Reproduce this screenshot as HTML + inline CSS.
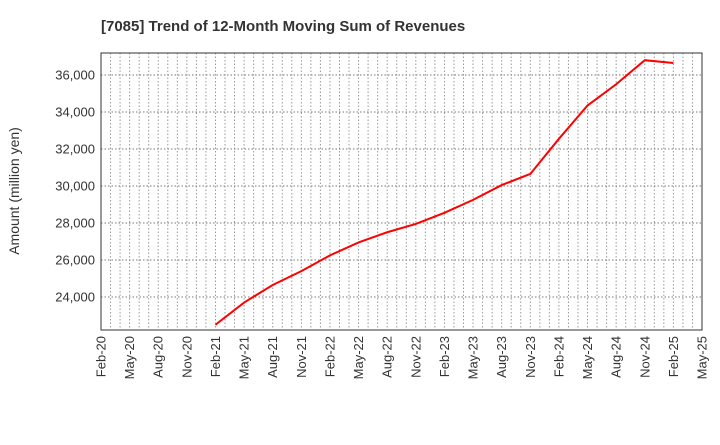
<!DOCTYPE html>
<html><head><meta charset="utf-8"><style>
body{margin:0;background:#fff;font-family:"Liberation Sans",sans-serif;}
</style></head><body>
<svg id="c" width="720" height="440" xmlns="http://www.w3.org/2000/svg">
<text x="101" y="31" font-size="15" font-weight="bold" fill="#333">[7085]  Trend of 12-Month Moving Sum of Revenues</text>
<text transform="translate(19,191) rotate(-90)" text-anchor="middle" font-size="14" fill="#333">Amount (million yen)</text>
<g id="grid"></g><g id="ticks"></g><g id="series"></g>
<rect x="101" y="53" width="601" height="277" fill="none" stroke="#333" stroke-width="1"/>
</svg>
<script>
const xLabels=["Feb-20","May-20","Aug-20","Nov-20","Feb-21","May-21","Aug-21","Nov-21","Feb-22","May-22","Aug-22","Nov-22","Feb-23","May-23","Aug-23","Nov-23","Feb-24","May-24","Aug-24","Nov-24","Feb-25","May-25"];
const yTicks=[24000,26000,28000,30000,32000,34000,36000];
const dataQuarter=[4,5,6,7,8,9,10,11,12,13,14,15,16,17,18,19,20];
const revenues=[22500,23700,24650,25400,26250,26950,27500,27950,28550,29250,30050,30650,32550,34350,35500,36800,36650];
const L=101,R=702,T=53,B=330;
const x=q=>L+q*(R-L)/21;
const y=v=>297-(v-24000)*222/12000;
const ns="http://www.w3.org/2000/svg";
function mk(p,t,a){const e=document.createElementNS(ns,t);for(const k in a)e.setAttribute(k,a[k]);document.getElementById(p).appendChild(e);return e;}
for(let m=1;m<63;m++){const xx=L+m*(R-L)/63;
const g=mk('grid','line',{x1:xx,x2:xx,y1:T,y2:B,stroke:'#999','stroke-dasharray':'1.5,2','stroke-width':1});

}
yTicks.forEach(v=>{
const g=mk('grid','line',{x1:L,x2:R,y1:y(v),y2:y(v),stroke:'#777','stroke-dasharray':'1.5,2','stroke-width':1});


const t=mk('ticks','text',{x:L-6,y:y(v)+4.5,'text-anchor':'end','font-size':13,fill:'#333'});
t.textContent=v.toLocaleString('en-US');

});
xLabels.forEach((s,i)=>{
const t=mk('ticks','text',{transform:`translate(${x(i)+4.5},${B+6}) rotate(-90)`,'text-anchor':'end','font-size':13,fill:'#333'});
t.textContent=s;

});
const pts=revenues.map((v,i)=>x(dataQuarter[i])+','+y(v)).join(' ');
const pl=mk('series','polyline',{points:pts,fill:'none',stroke:'#f00','stroke-width':2});


</script>
</body></html>
